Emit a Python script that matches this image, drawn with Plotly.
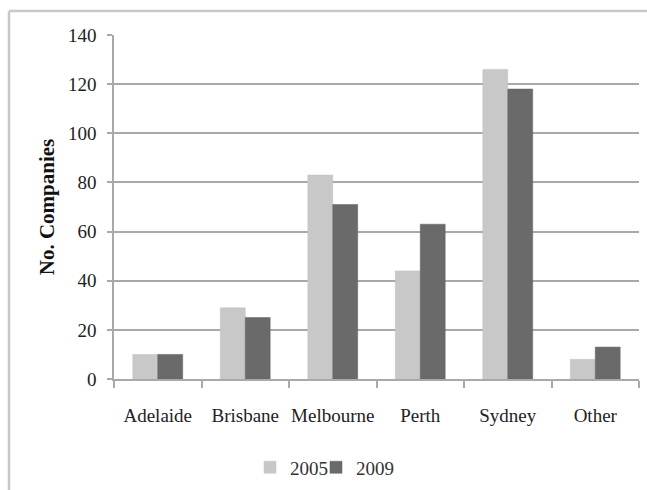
import plotly.graph_objects as go

categories = ["Adelaide", "Brisbane", "Melbourne", "Perth", "Sydney", "Other"]
values_2005 = [10, 29, 83, 44, 126, 8]
values_2009 = [10, 25, 71, 63, 118, 13]
series_names = ["2005", "2009"]
y_ticks = [0, 20, 40, 60, 80, 100, 120, 140]

W, H = 647, 490
L, R, T, B = 114, 8, 35, 110.5
pw = W - L - R
ph = H - T - B

def px_x(x):
    return (x - L) / pw

def px_y(y):
    return (H - B - y) / ph

FONT = "Liberation Serif"
GRID = "#a9a9a9"

fig = go.Figure()
fig.add_trace(go.Bar(x=categories, y=values_2005, name=series_names[0], legend="legend",
                     marker=dict(color="#c8c8c8", line=dict(color="#c0c0c0", width=0.5))))
fig.add_trace(go.Bar(x=categories, y=values_2009, name=series_names[1], legend="legend2",
                     marker=dict(color="#6a6a6a", line=dict(color="#626262", width=0.5))))

legend_common = dict(orientation="h", xanchor="left", yanchor="middle",
                     y=px_y(468), itemwidth=30,
                     font=dict(family=FONT, size=19, color="#333333"),
                     bgcolor="rgba(0,0,0,0)")

fig.update_layout(
    width=W, height=H,
    margin=dict(l=L, r=R, t=T, b=B, pad=0, autoexpand=False),
    paper_bgcolor="white", plot_bgcolor="white",
    barmode="group", bargap=0.43, bargroupgap=0,
    font=dict(family=FONT, size=19, color="#222222"),
    showlegend=True,
    legend=dict(x=px_x(250), **legend_common),
    legend2=dict(x=px_x(316), **legend_common),
    xaxis=dict(type="category", tickson="boundaries", ticks="outside",
               ticklen=7, tickwidth=1.5, tickcolor=GRID, tickangle=0,
               showline=True, linecolor=GRID, linewidth=1.5,
               showgrid=False, zeroline=False, automargin=False,
               tickfont=dict(family=FONT, size=19, color="#222222"),
               ticklabelstandoff=18),
    yaxis=dict(range=[0, 140], tickvals=y_ticks, ticks="outside",
               ticklen=5, tickwidth=1.5, tickcolor=GRID,
               showline=True, linecolor=GRID, linewidth=1.5,
               showgrid=True, gridcolor=GRID, gridwidth=1.5,
               zeroline=False, automargin=False,
               tickfont=dict(family=FONT, size=19, color="#222222"),
               ticklabelstandoff=7,
               title=dict(text="<b>No. Companies</b>", standoff=8,
                          font=dict(family=FONT, size=21, color="#111111"))),
    shapes=[
        dict(type="line", xref="paper", yref="paper",
             x0=px_x(9), x1=px_x(649), y0=px_y(11), y1=px_y(11),
             line=dict(color="#c8c8c8", width=2.5)),
        dict(type="line", xref="paper", yref="paper",
             x0=px_x(9), x1=px_x(9), y0=px_y(11), y1=px_y(492),
             line=dict(color="#c8c8c8", width=2.5)),
    ],
)

fig.write_html("out.html", config={"displayModeBar": False},
               post_script="document.body.style.margin='0';")
